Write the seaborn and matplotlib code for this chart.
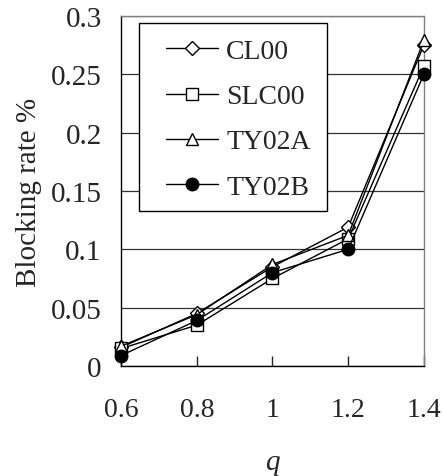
import numpy as np
import pandas as pd
import matplotlib
matplotlib.use("Agg")
import matplotlib.pyplot as plt
from matplotlib.patches import Rectangle
import seaborn as sb

q = [0.6, 0.8, 1.0, 1.2, 1.4]
cl00 = [0.016, 0.045, 0.085, 0.119, 0.275]
slc00 = [0.015, 0.035, 0.075, 0.109, 0.257]
ty02a = [0.017, 0.044, 0.087, 0.112, 0.279]
ty02b = [0.009, 0.039, 0.080, 0.100, 0.250]

series = {'CL00': cl00, 'SLC00': slc00, 'TY02A': ty02a, 'TY02B': ty02b}
styles = {'CL00': ('D', 'white', 7),
          'SLC00': ('s', 'white', 8),
          'TY02A': ('^', 'white', 9),
          'TY02B': ('o', 'black', 9)}

sb.set_style('white')
plt.rcParams['font.family'] = ['Liberation Serif', 'DejaVu Serif']

fig = plt.figure(figsize=(4.42, 4.77), dpi=100)
ax = fig.add_axes([0.274, 0.2306, 0.685, 0.734])

for name, vals in series.items():
    m, fc, ms = styles[name]
    sb.lineplot(x=q, y=vals, ax=ax, color='black', linewidth=1,
                marker=m, markerfacecolor=fc, markeredgecolor='black',
                markersize=ms, markeredgewidth=1, label=name, clip_on=False,
                zorder=3)

ax.set_xlim(0.6, 1.4)
ax.set_ylim(0, 0.3)
ax.set_xticks(q)
ax.set_xticklabels(['0.6', '0.8', '1', '1.2', '1.4'])
ax.set_yticks([0, 0.05, 0.1, 0.15, 0.2, 0.25, 0.3])
ax.set_yticklabels(['0', '0.05', '0.1', '0.15', '0.2', '0.25', '0.3'])
ax.yaxis.grid(True, color='#333333', linewidth=0.9)
ax.set_axisbelow(True)
ax.tick_params(axis='x', direction='in', length=7, width=1, pad=22,
               labelsize=20, bottom=True)
ax.tick_params(axis='y', length=0, pad=14, labelsize=21)
for s in ['left', 'bottom']:
    ax.spines[s].set_color('black')
    ax.spines[s].set_linewidth(1)
for s in ['top', 'right']:
    ax.spines[s].set_color('#808080')
    ax.spines[s].set_linewidth(1)

ax.set_ylabel('Blocking rate %', fontsize=21, labelpad=6)
ax.set_xlabel('q', fontsize=21, labelpad=20, fontstyle='italic')

# legend box drawn separately (wider padding than the legend frame allows)
ax.add_patch(Rectangle((0.059, 0.443), 0.621, 0.537, transform=ax.transAxes,
                       facecolor='white', edgecolor='black', linewidth=1,
                       zorder=4))
leg = ax.legend(loc='upper left', bbox_to_anchor=(0.149, 0.935), fontsize=20,
                frameon=False, handlelength=1.87, borderpad=0,
                labelspacing=0.71, handletextpad=0.29, borderaxespad=0)
leg.set_zorder(5)

fig.savefig('out.png', dpi=100)
